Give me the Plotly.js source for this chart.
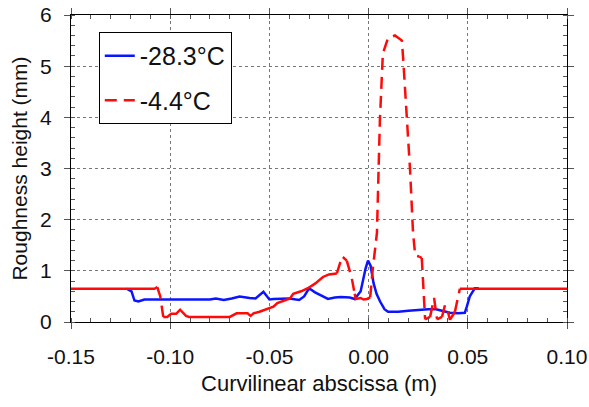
<!DOCTYPE html>
<html>
<head>
<meta charset="utf-8">
<script src="https://cdn.plot.ly/plotly-3.0.1.min.js"></script>
<style>html,body{margin:0;padding:0;background:#fff;}#chart{width:589px;height:407px;}</style>
</head>
<body>
<div id="chart"></div>
<script>
// -28.3°C series
const coldX = [-0.122, -0.1195, -0.118, -0.116, -0.113, -0.105, -0.095, -0.085, -0.080, -0.077, -0.073, -0.069, -0.065, -0.060, -0.057, -0.053, -0.050, -0.048, -0.040, -0.035, -0.0325, -0.030, -0.027, -0.023, -0.0205, -0.017, -0.014, -0.0095, -0.007, -0.004, -0.003, -0.0015, -0.0003, 0.001, 0.0025, 0.004, 0.0058, 0.008, 0.0098, 0.015, 0.020, 0.025, 0.030, 0.034, 0.037, 0.041, 0.045, 0.0485, 0.0495, 0.051, 0.0535, 0.0555];
const coldY = [0.65, 0.60, 0.42, 0.40, 0.44, 0.44, 0.45, 0.45, 0.44, 0.46, 0.43, 0.46, 0.50, 0.47, 0.46, 0.59, 0.44, 0.45, 0.46, 0.43, 0.50, 0.66, 0.58, 0.50, 0.45, 0.48, 0.49, 0.48, 0.45, 0.60, 0.80, 1.05, 1.20, 1.10, 0.76, 0.55, 0.40, 0.25, 0.20, 0.20, 0.22, 0.24, 0.25, 0.25, 0.22, 0.18, 0.17, 0.18, 0.30, 0.50, 0.66, 0.66];
// -4.4°C series
const warmX = [-0.150, -0.108, -0.1065, -0.105, -0.1035, -0.1015, -0.0995, -0.097, -0.095, -0.094, -0.092, -0.0905, -0.070, -0.0665, -0.061, -0.0595, -0.058, -0.055, -0.051, -0.048, -0.046, -0.042, -0.0396, -0.038, -0.034, -0.0306, -0.027, -0.023, -0.020, -0.016, -0.0144, -0.013, -0.011, -0.0085, -0.007, -0.0065, -0.004, -0.0025, -0.0008, 0.0008, 0.002, 0.0042, 0.0057, 0.0072, 0.0098, 0.0133, 0.0168, 0.0175, 0.0193, 0.0209, 0.0224, 0.0235, 0.0255, 0.0268, 0.0275, 0.0285, 0.031, 0.033, 0.0345, 0.037, 0.0385, 0.040, 0.041, 0.0435, 0.045, 0.046, 0.100];
const warmY = [0.65, 0.65, 0.68, 0.50, 0.10, 0.10, 0.16, 0.16, 0.24, 0.20, 0.12, 0.10, 0.10, 0.17, 0.17, 0.12, 0.17, 0.20, 0.25, 0.30, 0.37, 0.42, 0.46, 0.55, 0.60, 0.66, 0.75, 0.88, 0.93, 0.95, 1.15, 1.27, 1.20, 0.86, 0.55, 0.45, 0.47, 0.44, 0.45, 0.48, 1.00, 1.74, 3.95, 5.25, 5.55, 5.60, 5.50, 5.10, 3.95, 2.97, 1.74, 1.30, 1.28, 1.25, 0.68, 0.05, 0.10, 0.47, 0.05, 0.10, 0.33, 0.20, 0.04, 0.20, 0.47, 0.65, 0.65];
const seriesNames = ["-28.3°C", "-4.4°C"];
const xTickVals = [-0.15, -0.10, -0.05, 0.00, 0.05, 0.10];
const xTickText = ["-0.15", "-0.10", "-0.05", "0.00", "0.05", "0.10"];
const yTickVals = [0, 1, 2, 3, 4, 5, 6];

const X_RANGE = [-0.15, 0.10], Y_RANGE = [0, 6];
const PLOT_W = 589 - 71 - 22, PLOT_H = 407 - 15 - 85;

// The original plotter dashes long (steep) segments and the big spike, while
// dense, gently varying stretches look solid: split the warm curve accordingly.
function splitBySteepness(xs, ys) {
  const sx = PLOT_W / (X_RANGE[1] - X_RANGE[0]);
  const sy = PLOT_H / (Y_RANGE[1] - Y_RANGE[0]);
  const solid = {x: [], y: []}, dashed = {x: [], y: []};
  for (let i = 0; i < xs.length - 1; i++) {
    const dxp = Math.abs(xs[i + 1] - xs[i]) * sx;
    const dyp = Math.abs(ys[i + 1] - ys[i]) * sy;
    const inSpike = ys[i] > 1.29 && ys[i + 1] > 1.2;
    const target = ((dyp > 6 && dyp > 2 * dxp) || inSpike) ? dashed : solid;
    const n = target.x.length;
    if (n === 0 || target.x[n - 1] !== xs[i] || target.y[n - 1] !== ys[i]) {
      if (n > 0) { target.x.push(null); target.y.push(null); }
      target.x.push(xs[i]); target.y.push(ys[i]);
    }
    target.x.push(xs[i + 1]); target.y.push(ys[i + 1]);
  }
  return {solid, dashed};
}
const warmParts = splitBySteepness(warmX, warmY);

const font = "Liberation Sans, Arial, sans-serif";
const RED = "#ff0a0a", BLUE = "#0a14ff";
const traces = [
  {x: coldX, y: coldY, name: seriesNames[0], type: "scatter", mode: "lines", legendgroup: "a",
   line: {color: BLUE, width: 2.5}},
  {x: warmParts.solid.x, y: warmParts.solid.y, name: seriesNames[1], type: "scatter", mode: "lines",
   legendgroup: "b", showlegend: false, connectgaps: false,
   line: {color: RED, width: 2.5}},
  {x: warmParts.dashed.x, y: warmParts.dashed.y, name: seriesNames[1], type: "scatter", mode: "lines",
   legendgroup: "b", connectgaps: false,
   line: {color: RED, width: 2.5, dash: "12px,7px"}}
];
const axisCommon = {
  showline: true, linecolor: "#000", linewidth: 1, mirror: "ticks",
  ticks: "outside", ticklen: 6, tickcolor: "#555", tickwidth: 1,
  showgrid: true, gridcolor: "#777", griddash: "dot", gridwidth: 1,
  zeroline: false, tickfont: {family: font, size: 21, color: "#111"}
};
const layout = {
  width: 589, height: 407,
  margin: {l: 71, r: 22, t: 15, b: 85},
  paper_bgcolor: "#fff", plot_bgcolor: "#fff",
  showlegend: true,
  legend: {x: 0.056, y: 0.945, xanchor: "left", yanchor: "top",
    bordercolor: "#000", borderwidth: 1, bgcolor: "#fff",
    font: {family: font, size: 25, color: "#111"},
    traceorder: "grouped", tracegroupgap: 9, itemwidth: 30},
  xaxis: Object.assign({}, axisCommon, {
    range: X_RANGE, tickvals: xTickVals, ticktext: xTickText, ticklabelstandoff: 10,
    minor: {dtick: 0.01, ticks: "inside", ticklen: 4, tickcolor: "#555", showgrid: false},
    title: {text: "Curvilinear abscissa (m)", font: {family: font, size: 22, color: "#111"}, standoff: 8}
  }),
  yaxis: Object.assign({}, axisCommon, {
    range: Y_RANGE, tickvals: yTickVals, ticklabelstandoff: 8,
    minor: {dtick: 0.2, ticks: "inside", ticklen: 4, tickcolor: "#555", showgrid: false},
    title: {text: "Roughness height (mm)", font: {family: font, size: 21, color: "#111"}, standoff: 6}
  })
};
Plotly.newPlot("chart", traces, layout, {displayModeBar: false, staticPlot: true});
</script>
</body>
</html>
